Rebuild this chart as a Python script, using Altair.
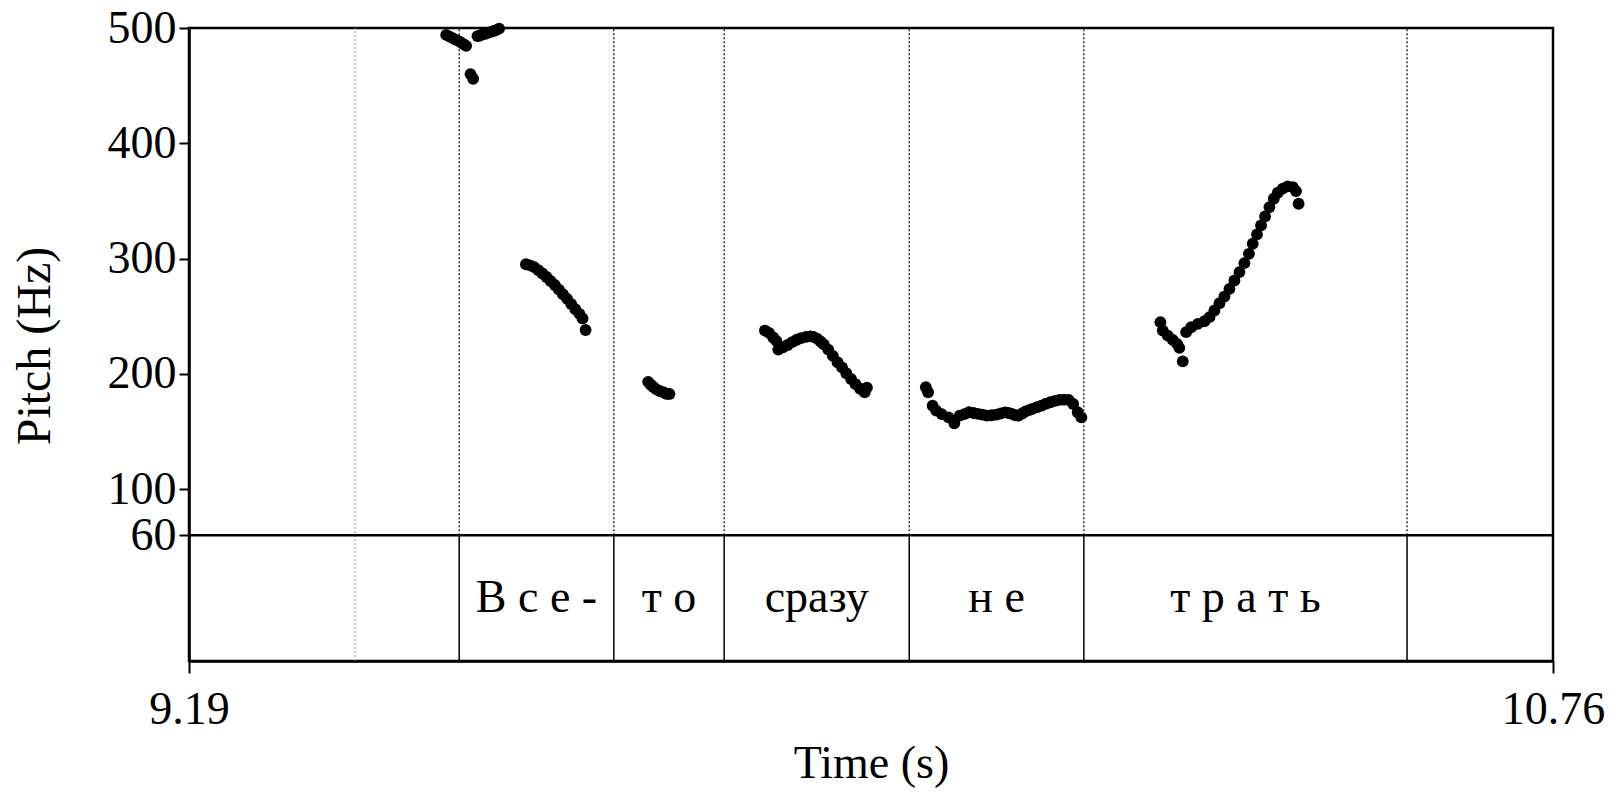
import altair as alt
import pandas as pd

# ---- pitch track (time in s, F0 in Hz) ----
TIME = [
    9.486, 9.490, 9.494, 9.498, 9.502, 9.506, 9.509, 9.514, 9.517,
    9.522, 9.525, 9.528, 9.531, 9.535, 9.539, 9.543, 9.547,
    9.5778, 9.5825, 9.5873, 9.592, 9.5967, 9.6015, 9.6062, 9.611, 9.6157,
    9.6204, 9.6252, 9.6299, 9.6347, 9.6394, 9.643, 9.6465,
    9.7185, 9.7215, 9.7245, 9.728, 9.732, 9.736, 9.740, 9.743,
    9.8529, 9.8576, 9.8624, 9.866, 9.8683, 9.8737, 9.879, 9.8842, 9.8896,
    9.8946, 9.9003, 9.905, 9.9086, 9.9129, 9.9169, 9.9207, 9.9258, 9.9311,
    9.9365, 9.9416, 9.9466, 9.952, 9.9572, 9.9624, 9.9677, 9.9703,
    10.0381, 10.0407, 10.0459, 10.0501, 10.0564, 10.0642, 10.0709, 10.0772,
    10.0825, 10.0877, 10.093, 10.0981, 10.1033, 10.1085, 10.1138, 10.1190,
    10.1242, 10.1294, 10.1333, 10.1372, 10.1411, 10.1450, 10.149, 10.1529,
    10.1568, 10.1607, 10.1659, 10.1711, 10.1764, 10.1816, 10.1868, 10.1920,
    10.1972, 10.2025, 10.2077, 10.2129, 10.2171,
    10.3081, 10.3108, 10.3166, 10.3223, 10.3273, 10.3299, 10.3338,
    10.3377, 10.3435, 10.3512, 10.3588, 10.3646, 10.3703, 10.3761, 10.3818,
    10.3876, 10.3933, 10.3991, 10.4048, 10.41, 10.4144, 10.4193, 10.424,
    10.4286, 10.4336, 10.4386, 10.4432, 10.4489, 10.4547, 10.4604, 10.4642,
    10.4672,
]
PITCH = [
    494, 492.5, 491, 489.5, 488, 486, 484.5, 460, 456,
    493, 493.5, 494.5, 495, 496, 497, 498, 499.5,
    295, 294, 292.5, 290, 287, 284, 280.5, 277, 273,
    269, 265, 260.5, 256, 252, 248, 238,
    193, 190.5, 188.5, 186.5, 185, 184, 182.5, 182.5,
    237.5, 235.5, 231.5, 228.5, 221, 223, 225, 227.5, 229.5,
    231, 232, 232.5, 232, 230.5, 228, 225.5, 221, 215.5,
    210, 205.5, 200.5, 195.5, 191, 187, 184, 188,
    188.3, 184, 172.3, 168, 165, 162.2, 157, 163.7,
    165, 166.6, 166, 165.2, 164.5, 163.7, 164, 164.5,
    165.5, 166.5, 166, 165.2, 164, 163.7, 165.5, 167.4,
    168.5, 169.5, 171, 172.3, 174, 175.3, 176.5, 177.3,
    177.5, 177.3, 173.8, 166.6, 162.2,
    244.8, 237.5, 233.1, 229.4, 226, 222.5, 210.8,
    236.1, 240.4, 243.3, 245.6, 249.1, 254.9, 261.2, 267,
    273.7, 280.9, 288.2, 296, 304.1, 312.8, 320.9, 328.7,
    336.5, 344.6, 351.9, 357.1, 360.6, 362.6, 362, 358.5,
    347.5,
]

# ---- text tier ----
WORDS = ["В с е -", "т о", "сразу", "н е", "т р а т ь"]
WORD_START = [9.501, 9.679, 9.806, 10.019, 10.220]
WORD_END = [9.679, 9.806, 10.019, 10.220, 10.592]
GRAY_BOUNDARY = [9.381]

# ---- axes ----
T_MIN, T_MAX = 9.19, 10.76
F_FLOOR, F_CEIL = 60, 500
TIER_BOTTOM = -49.2
Y_TICKS = [60, 100, 200, 300, 400, 500]
X_TICKS = [T_MIN, T_MAX]

FONT = "Liberation Serif"
W, H = 1364, 633

boundaries = sorted(set(WORD_START + WORD_END))

pts = pd.DataFrame({"t": TIME, "f": PITCH})
dotted = pd.DataFrame({"t": boundaries, "f": [F_FLOOR] * len(boundaries),
                       "f2": [F_CEIL] * len(boundaries)})
solid = pd.DataFrame({"t": boundaries, "f": [TIER_BOTTOM] * len(boundaries),
                      "f2": [F_FLOOR] * len(boundaries)})
gray = pd.DataFrame({"t": GRAY_BOUNDARY, "f": [TIER_BOTTOM], "f2": [F_CEIL]})
floor_line = pd.DataFrame({"f": [F_FLOOR]})
tier_mid = (TIER_BOTTOM + F_FLOOR) / 2
words = pd.DataFrame({
    "t": [(a + b) / 2 for a, b in zip(WORD_START, WORD_END)],
    "f": [tier_mid] * len(WORDS),
    "label": WORDS,
})

xaxis = alt.Axis(values=X_TICKS, format=".2f", title="Time (s)", grid=False,
                 labelFlush=False, labelOverlap=False, tickSize=12, tickWidth=2,
                 labelPadding=14, titlePadding=9)
yaxis = alt.Axis(values=Y_TICKS, format="d", title="Pitch (Hz)", grid=False,
                 labelOverlap=False, tickSize=10, tickWidth=2, labelPadding=3,
                 titleX=-154, titleY=H / 2 + 1, titleBaseline="middle",
                 titleFontSize=48)
xs = alt.Scale(domain=[T_MIN, T_MAX], nice=False, zero=False)
ys = alt.Scale(domain=[TIER_BOTTOM, F_CEIL], nice=False, zero=False)


def X():
    return alt.X("t:Q", scale=xs, axis=xaxis)


def Y():
    return alt.Y("f:Q", scale=ys, axis=yaxis)


gray_layer = alt.Chart(gray).mark_rule(color="#9a9a9a", strokeWidth=1,
                                       strokeDash=[2, 2]).encode(
    x=X(), y=Y(), y2="f2:Q")
dotted_layer = alt.Chart(dotted).mark_rule(color="black", strokeWidth=1.2,
                                           strokeDash=[2, 2]).encode(
    x=X(), y=Y(), y2="f2:Q")
solid_layer = alt.Chart(solid).mark_rule(color="black", strokeWidth=1.5).encode(
    x=X(), y=Y(), y2="f2:Q")
floor_layer = alt.Chart(floor_line).mark_rule(color="black", strokeWidth=2.5).encode(
    y=Y())
point_layer = alt.Chart(pts).mark_circle(color="black", opacity=1, size=140).encode(
    x=X(), y=Y())
text_layer = alt.Chart(words).mark_text(font=FONT, fontSize=46, color="black",
                                        baseline="middle", align="center").encode(
    x=X(), y=Y(), text="label:N")

chart = alt.layer(
    gray_layer, dotted_layer, solid_layer, floor_layer, point_layer, text_layer
).properties(
    width=W, height=H,
    autosize=alt.AutoSizeParams(type="none"),
    padding={"left": 181, "top": 20, "right": 55, "bottom": 130},
    background="white",
).configure_view(
    stroke="black", strokeWidth=2.5
).configure_axis(
    domainColor="black", domainWidth=2.5, tickColor="black",
    labelFont=FONT, labelFontSize=46, labelColor="black",
    titleFont=FONT, titleFontSize=46, titleFontWeight="normal", titleColor="black",
)

chart.save("out.html", embed_options={"renderer": "svg", "actions": False})
